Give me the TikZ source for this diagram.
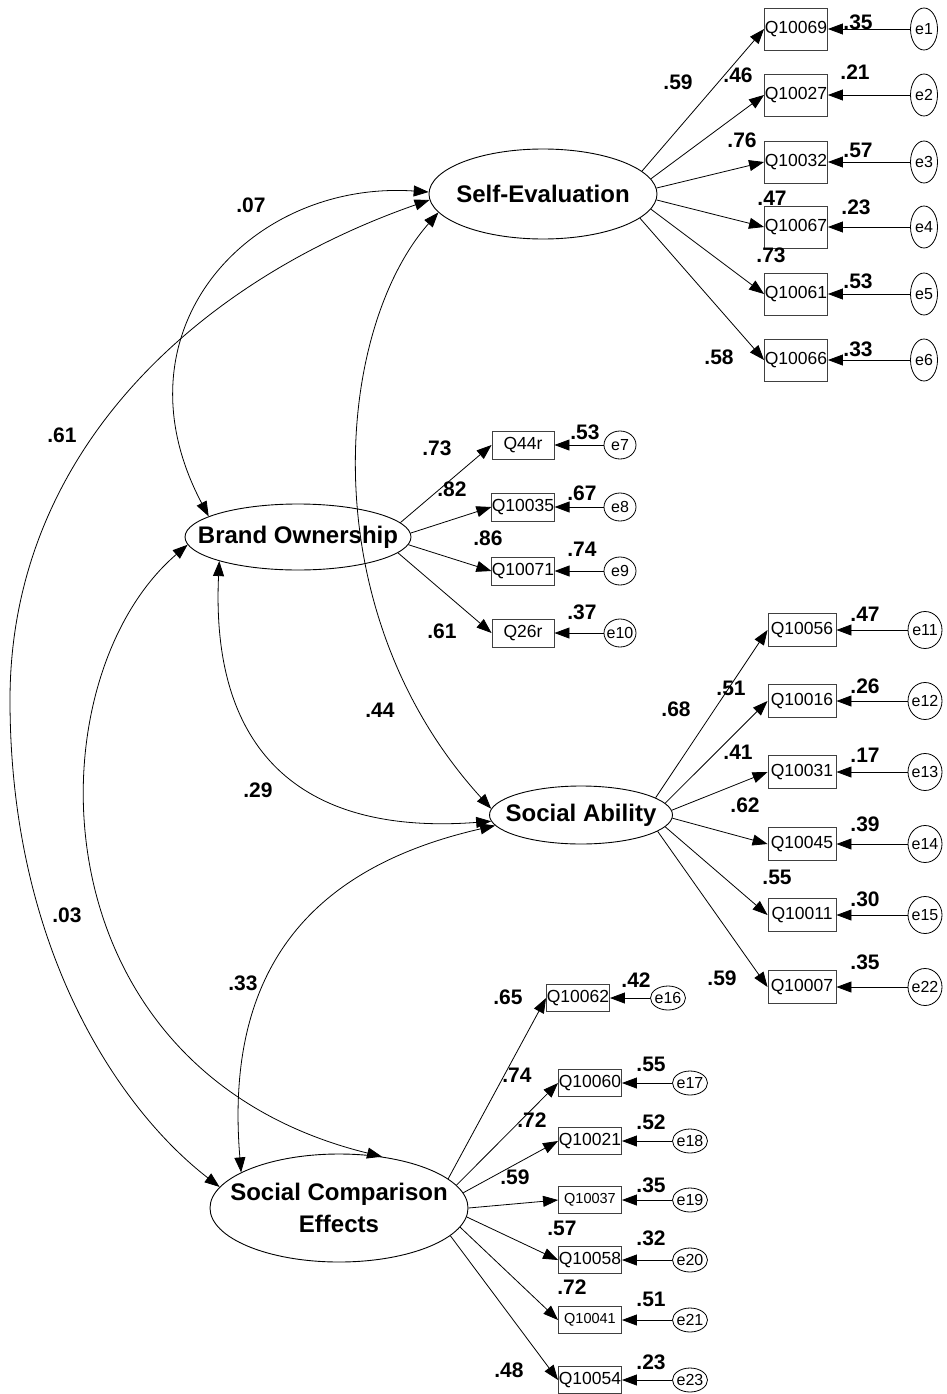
\documentclass[tikz,border=0pt]{standalone}
\usepackage{fontspec}
\setmainfont{Liberation Sans}
\usetikzlibrary{shapes.geometric,arrows.meta}
\begin{document}
\begin{tikzpicture}[x=1pt,y=-1pt,
  >={Triangle[length=15pt,width=11pt]},
  lat/.style={ellipse, draw, line width=0.9pt, inner sep=0pt},
  lattext/.style={font=\fontsize{24pt}{32pt}\selectfont\bfseries, align=center, inner sep=0pt},
  obs/.style={rectangle, draw=black!75, line width=0.9pt, inner sep=0pt,
              font=\fontsize{17.5pt}{17.5pt}\selectfont},
  obssmall/.style={obs, font=\fontsize{14.5pt}{14.5pt}\selectfont},
  err/.style={ellipse, draw, line width=0.8pt, inner sep=0pt},
  errtext/.style={font=\fontsize{16pt}{16pt}\selectfont, inner sep=0pt},
  val/.style={font=\fontsize{21pt}{21pt}\selectfont\bfseries, inner sep=0pt},
  ld/.style={line width=0.8pt, ->},
  cv/.style={line width=0.8pt, <->}]
\useasboundingbox (0,0) rectangle (946,1394);

% latent variables
\node[lat, minimum width=228pt, minimum height=90pt,
      label={[lattext]center:Self-Evaluation}] (SE) at (543,194) {};
\node[lat, minimum width=226pt, minimum height=66pt,
      label={[lattext]center:Brand Ownership}] (BO) at (298,537) {};
\node[lat, minimum width=183pt, minimum height=58pt,
      label={[lattext]center:Social Ability}] (SA) at (581,815) {};
\node[lat, minimum width=258pt, minimum height=108pt,
      label={[lattext]center:{Social Comparison\\Effects}}] (SCE) at (339,1208) {};

% Self-Evaluation indicators (\a = border angle where the loading leaves the factor)
\foreach \i/\q/\e/\y/\a in {1/Q10069/e1/29/13, 2/Q10027/e2/95/8, 3/Q10032/e3/162/3,
                            4/Q10067/e4/227/-3, 5/Q10061/e5/294/-8, 6/Q10066/e6/360/-14}{
  \node[obs, minimum width=63pt, minimum height=42pt] (s\i) at (796,\y) {\q};
  \node[err, minimum width=27pt, minimum height=42pt,
        label={[errtext]center:\e}] (es\i) at (924,\y) {};
  \draw[ld] (SE.\a) -- (s\i.west);
  \draw[ld] (es\i) -- (s\i);
}

% Brand Ownership indicators
\foreach \i/\q/\e/\y/\a in {1/Q44r/e7/445/8, 2/Q10035/e8/507/2, 3/Q10071/e9/571/-4, 4/Q26r/e10/633/-9}{
  \node[obs, minimum width=62pt, minimum height=28pt] (b\i) at (523,\y) {\q};
  \node[err, minimum width=32pt, minimum height=28pt,
        label={[errtext]center:\e}] (eb\i) at (620,\y) {};
  \draw[ld] (BO.\a) -- (b\i.west);
  \draw[ld] (eb\i) -- (b\i);
}

% Social Ability indicators
\foreach \i/\q/\e/\y/\a in {1/Q10056/e11/630/13, 2/Q10016/e12/701/8, 3/Q10031/e13/772/3,
                            4/Q10045/e14/844/-2, 5/Q10011/e15/915/-8, 6/Q10007/e22/987/-12}{
  \node[obs, minimum width=68pt, minimum height=33pt] (a\i) at (802,\y) {\q};
  \node[err, minimum width=34pt, minimum height=37pt,
        label={[errtext]center:\e}] (ea\i) at (925,\y) {};
  \draw[ld] (SA.\a) -- (a\i.west);
  \draw[ld] (ea\i) -- (a\i);
}

% Social Comparison Effects indicators
\node[obs, minimum width=63pt, minimum height=27pt] (c1) at (578,998) {Q10062};
\node[err, minimum width=35pt, minimum height=24pt,
      label={[errtext]center:e16}] (ec1) at (668,998) {};
\foreach \i/\q/\e/\y/\st in {2/Q10060/e17/1083/obs, 3/Q10021/e18/1141/obs,
                             4/Q10037/e19/1200/obssmall, 5/Q10058/e20/1260/obs,
                             6/Q10041/e21/1320/obssmall, 7/Q10054/e23/1380/obs}{
  \node[\st, minimum width=63pt, minimum height=27pt] (c\i) at (590,\y) {\q};
  \node[err, minimum width=35pt, minimum height=24pt,
        label={[errtext]center:\e}] (ec\i) at (690,\y) {};
}
\foreach \i/\a in {1/15, 2/11, 3/7, 4/0, 5/-4, 6/-9, 7/-14}{
  \draw[ld] (SCE.\a) -- (c\i.west);
  \draw[ld] (ec\i) -- (c\i);
}

% covariances between latent variables
\draw[cv] (SE.179) .. controls (250,180) and (110,330) .. (BO.167);
\draw[cv] (SE.183) .. controls (200,280) and (10,450) .. (10,700)
                   .. controls (10,950) and (120,1110) .. (SCE.170);
\draw[cv] (SE.190) .. controls (335,330) and (310,610) .. (SA.176);
\draw[cv] (BO.197) .. controls (210,760) and (310,835) .. (SA.184);
\draw[cv] (BO.184) .. controls (30,680) and (30,1070) .. (SCE.50);
\draw[cv] (SA.187) .. controls (300,870) and (225,980) .. (SCE.160);

% correlation estimates
\node[val] (r07) at (251,205) {.07};
\node[val] (r61) at (62,435) {.61};
\node[val] (r44) at (380,710) {.44};
\node[val] (r29) at (258,790) {.29};
\node[val] (r03) at (67,915) {.03};
\node[val] (r33) at (243,983) {.33};

% Self-Evaluation loadings and squared multiple correlations
\node[val] (ls1) at (678,82) {.59};
\node[val] (ls2) at (738,75) {.46};
\node[val] (ls3) at (742,140) {.76};
\node[val] (ls4) at (772,198) {.47};
\node[val] (ls5) at (771,255) {.73};
\node[val] (ls6) at (719,357) {.58};
\node[val] (rs1) at (858,22) {.35};
\node[val] (rs2) at (855,72) {.21};
\node[val] (rs3) at (858,150) {.57};
\node[val] (rs4) at (856,207) {.23};
\node[val] (rs5) at (858,281) {.53};
\node[val] (rs6) at (858,349) {.33};

% Brand Ownership loadings and squared multiple correlations
\node[val] (lb1) at (437,448) {.73};
\node[val] (lb2) at (452,489) {.82};
\node[val] (lb3) at (488,538) {.86};
\node[val] (lb4) at (442,631) {.61};
\node[val] (rb1) at (585,432) {.53};
\node[val] (rb2) at (582,493) {.67};
\node[val] (rb3) at (582,549) {.74};
\node[val] (rb4) at (582,612) {.37};

% Social Ability loadings and squared multiple correlations
\node[val] (la1) at (676,709) {.68};
\node[val] (la2) at (731,688) {.51};
\node[val] (la3) at (738,752) {.41};
\node[val] (la4) at (745,805) {.62};
\node[val] (la5) at (777,877) {.55};
\node[val] (la6) at (722,978) {.59};
\node[val] (ra1) at (865,614) {.47};
\node[val] (ra2) at (865,686) {.26};
\node[val] (ra3) at (865,755) {.17};
\node[val] (ra4) at (865,824) {.39};
\node[val] (ra5) at (865,899) {.30};
\node[val] (ra6) at (865,962) {.35};

% Social Comparison Effects loadings and squared multiple correlations
\node[val] (lc1) at (508,997) {.65};
\node[val] (lc2) at (517,1075) {.74};
\node[val] (lc3) at (532,1120) {.72};
\node[val] (lc4) at (515,1177) {.59};
\node[val] (lc5) at (562,1228) {.57};
\node[val] (lc6) at (572,1287) {.72};
\node[val] (lc7) at (509,1370) {.48};
\node[val] (rc1) at (636,980) {.42};
\node[val] (rc2) at (651,1064) {.55};
\node[val] (rc3) at (651,1122) {.52};
\node[val] (rc4) at (651,1185) {.35};
\node[val] (rc5) at (651,1238) {.32};
\node[val] (rc6) at (651,1299) {.51};
\node[val] (rc7) at (651,1362) {.23};
\end{tikzpicture}
\end{document}
